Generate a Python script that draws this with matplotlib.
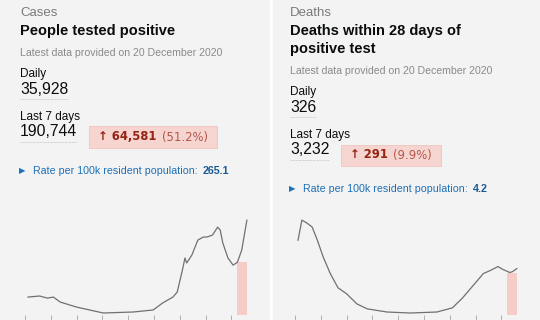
import matplotlib
matplotlib.use('Agg')
import matplotlib.pyplot as plt
from matplotlib.patches import Rectangle
from matplotlib.lines import Line2D
from matplotlib.text import Annotation

plt.rcParams['font.family'] = ['Liberation Sans', 'DejaVu Sans']

W, H = 540, 320

# data (day 0 = first tick, ticks every 30 days)
case_days = [3.5, 17, 26, 33, 41, 60, 91, 126, 149, 160, 172, 177, 183, 186, 188, 194,
             201, 207, 212, 218, 224, 227, 230, 236, 242, 247, 252, 258]
case_vals = [6800, 7200, 6400, 6800, 4900, 3000, 760, 1140, 1900, 4550, 6800, 8700, 17000,
             21600, 19700, 22700, 28400, 29500, 29600, 30300, 33300, 32200, 27300, 21600,
             18900, 20000, 24600, 35928]
death_days = [3.5, 8, 14, 20, 26, 33, 41, 50, 60, 72, 84, 107, 134, 165, 183, 195, 207,
              219, 227, 236, 242, 250, 253, 258]
death_vals = [525, 666, 645, 617, 525, 404, 291, 191, 149, 78, 43, 21, 14, 21, 50, 121,
              206, 291, 312, 340, 319, 298, 305, 326]
tick_days = [0, 30, 60, 90, 120, 150, 180, 210, 240]
last7_start = 247

cards = [
    dict(left=0, cat='Cases', title=['People tested positive'], daily='35,928',
         week='190,744', change='64,581', pct='(51.2%)', rate='265.1',
         days=case_days, vals=case_vals, ymax=37900),
    dict(left=270, cat='Deaths', title=['Deaths within 28 days of', 'positive test'],
         daily='326', week='3,232', change='291', pct='(9.9%)', rate='4.2',
         days=death_days, vals=death_vals, ymax=702),
]

DARK = '#0b0c0c'
BLUE = '#1d70b8'
PINK = '#f6d4cf'
RED = '#942514'

fig = plt.figure(figsize=(W / 100, H / 100), dpi=100, facecolor='white')


def fx(x):
    return x / W


def fy(y):
    return 1 - y / H


def put(x, y, s, **kw):
    return fig.text(fx(x), fy(y), s, va='center', ha='left', **kw)


fig.patches.append(Rectangle((fx(0), 0), fx(269), 1, transform=fig.transFigure,
                             color='#f3f3f3', zorder=-5))
fig.patches.append(Rectangle((fx(273), 0), fx(267), 1, transform=fig.transFigure,
                             color='#f3f3f3', zorder=-5))

renderer = fig.canvas.get_renderer()

for c in cards:
    L = c['left']
    shift = 18 * (len(c['title']) - 1)
    put(L + 20, 13, c['cat'], fontsize=9.5, color='#7a7a7a')
    for i, t in enumerate(c['title']):
        put(L + 20, 31 + 18 * i, t, fontsize=10.5, fontweight='bold', color=DARK)
    put(L + 20, 53 + shift, 'Latest data provided on 20 December 2020', fontsize=7.6, color='#8a8a8a')
    put(L + 20, 74 + shift, 'Daily', fontsize=8.5, color=DARK)
    t1 = put(L + 20, 90 + shift, c['daily'], fontsize=11.3, color=DARK)
    put(L + 20, 117 + shift, 'Last 7 days', fontsize=8.5, color=DARK)
    t2 = put(L + 20, 132 + shift, c['week'], fontsize=11.3, color=DARK)
    for t, yy in ((t1, 99 + shift), (t2, 142 + shift)):
        bb = t.get_window_extent(renderer)
        fig.lines.append(Line2D([fx(L + 20), fx(L + 20) + bb.width / W], [fy(yy), fy(yy)],
                                transform=fig.transFigure, color='#b0b0b0', lw=0.5, ls=(0, (1, 1))))

    # change box, right of the weekly total
    ty = 137 + shift
    bx = L + 20 + t2.get_window_extent(renderer).width + 12
    a = put(bx + 9, ty, '\u2191 ' + c['change'], fontsize=8.4, fontweight='bold', color=RED,
            family='DejaVu Sans')
    wa = a.get_window_extent(renderer).width
    b = put(bx + 9 + wa + 5, ty, c['pct'], fontsize=8.4, color='#b4574b', family='DejaVu Sans')
    wb = b.get_window_extent(renderer).width
    fig.patches.append(Rectangle((fx(bx), fy(ty + 10.5)), fx(wa + wb + 5 + 18), 21 / H,
                                 transform=fig.transFigure, facecolor=PINK,
                                 edgecolor='#efc4bd', lw=0.6, zorder=-1))

    ry = 171 + shift
    put(L + 19, ry, '\u25b6', fontsize=6, color=BLUE, family='DejaVu Sans')
    r = put(L + 33, ry, 'Rate per 100k resident population:', fontsize=7.7, color=BLUE)
    fig.add_artist(Annotation(c['rate'], xy=(1, 0.5), xycoords=r,
                              xytext=(3.5, 0), textcoords='offset points',
                              ha='left', va='center', fontsize=7.7,
                              fontweight='bold', color='#1a5a94'))

    # chart
    ax = fig.add_axes([fx(L + 10), fy(315), fx(250), 100 / H])
    ax.set_zorder(2)
    ax.set_facecolor('none')
    ax.plot(c['days'], c['vals'], color='#707070', lw=0.9, zorder=3)
    last = [v for d, v in zip(c['days'], c['vals']) if d >= last7_start]
    ax.fill_between([last7_start, c['days'][-1]], 0, min(last), color='#f5cdc6', lw=0, zorder=2)
    ax.set_xlim((10 - 25) / 0.86, (260 - 25) / 0.86)
    ax.set_ylim(0, c['ymax'])
    for s in ax.spines.values():
        s.set_visible(False)
    ax.set_yticks([])
    ax.set_xticks(tick_days)
    ax.set_xticklabels([])
    ax.tick_params(axis='x', length=4, width=0.7, color='#b0b0b0', direction='out', pad=0)

fig.savefig('out.png', dpi=100, facecolor='white')
